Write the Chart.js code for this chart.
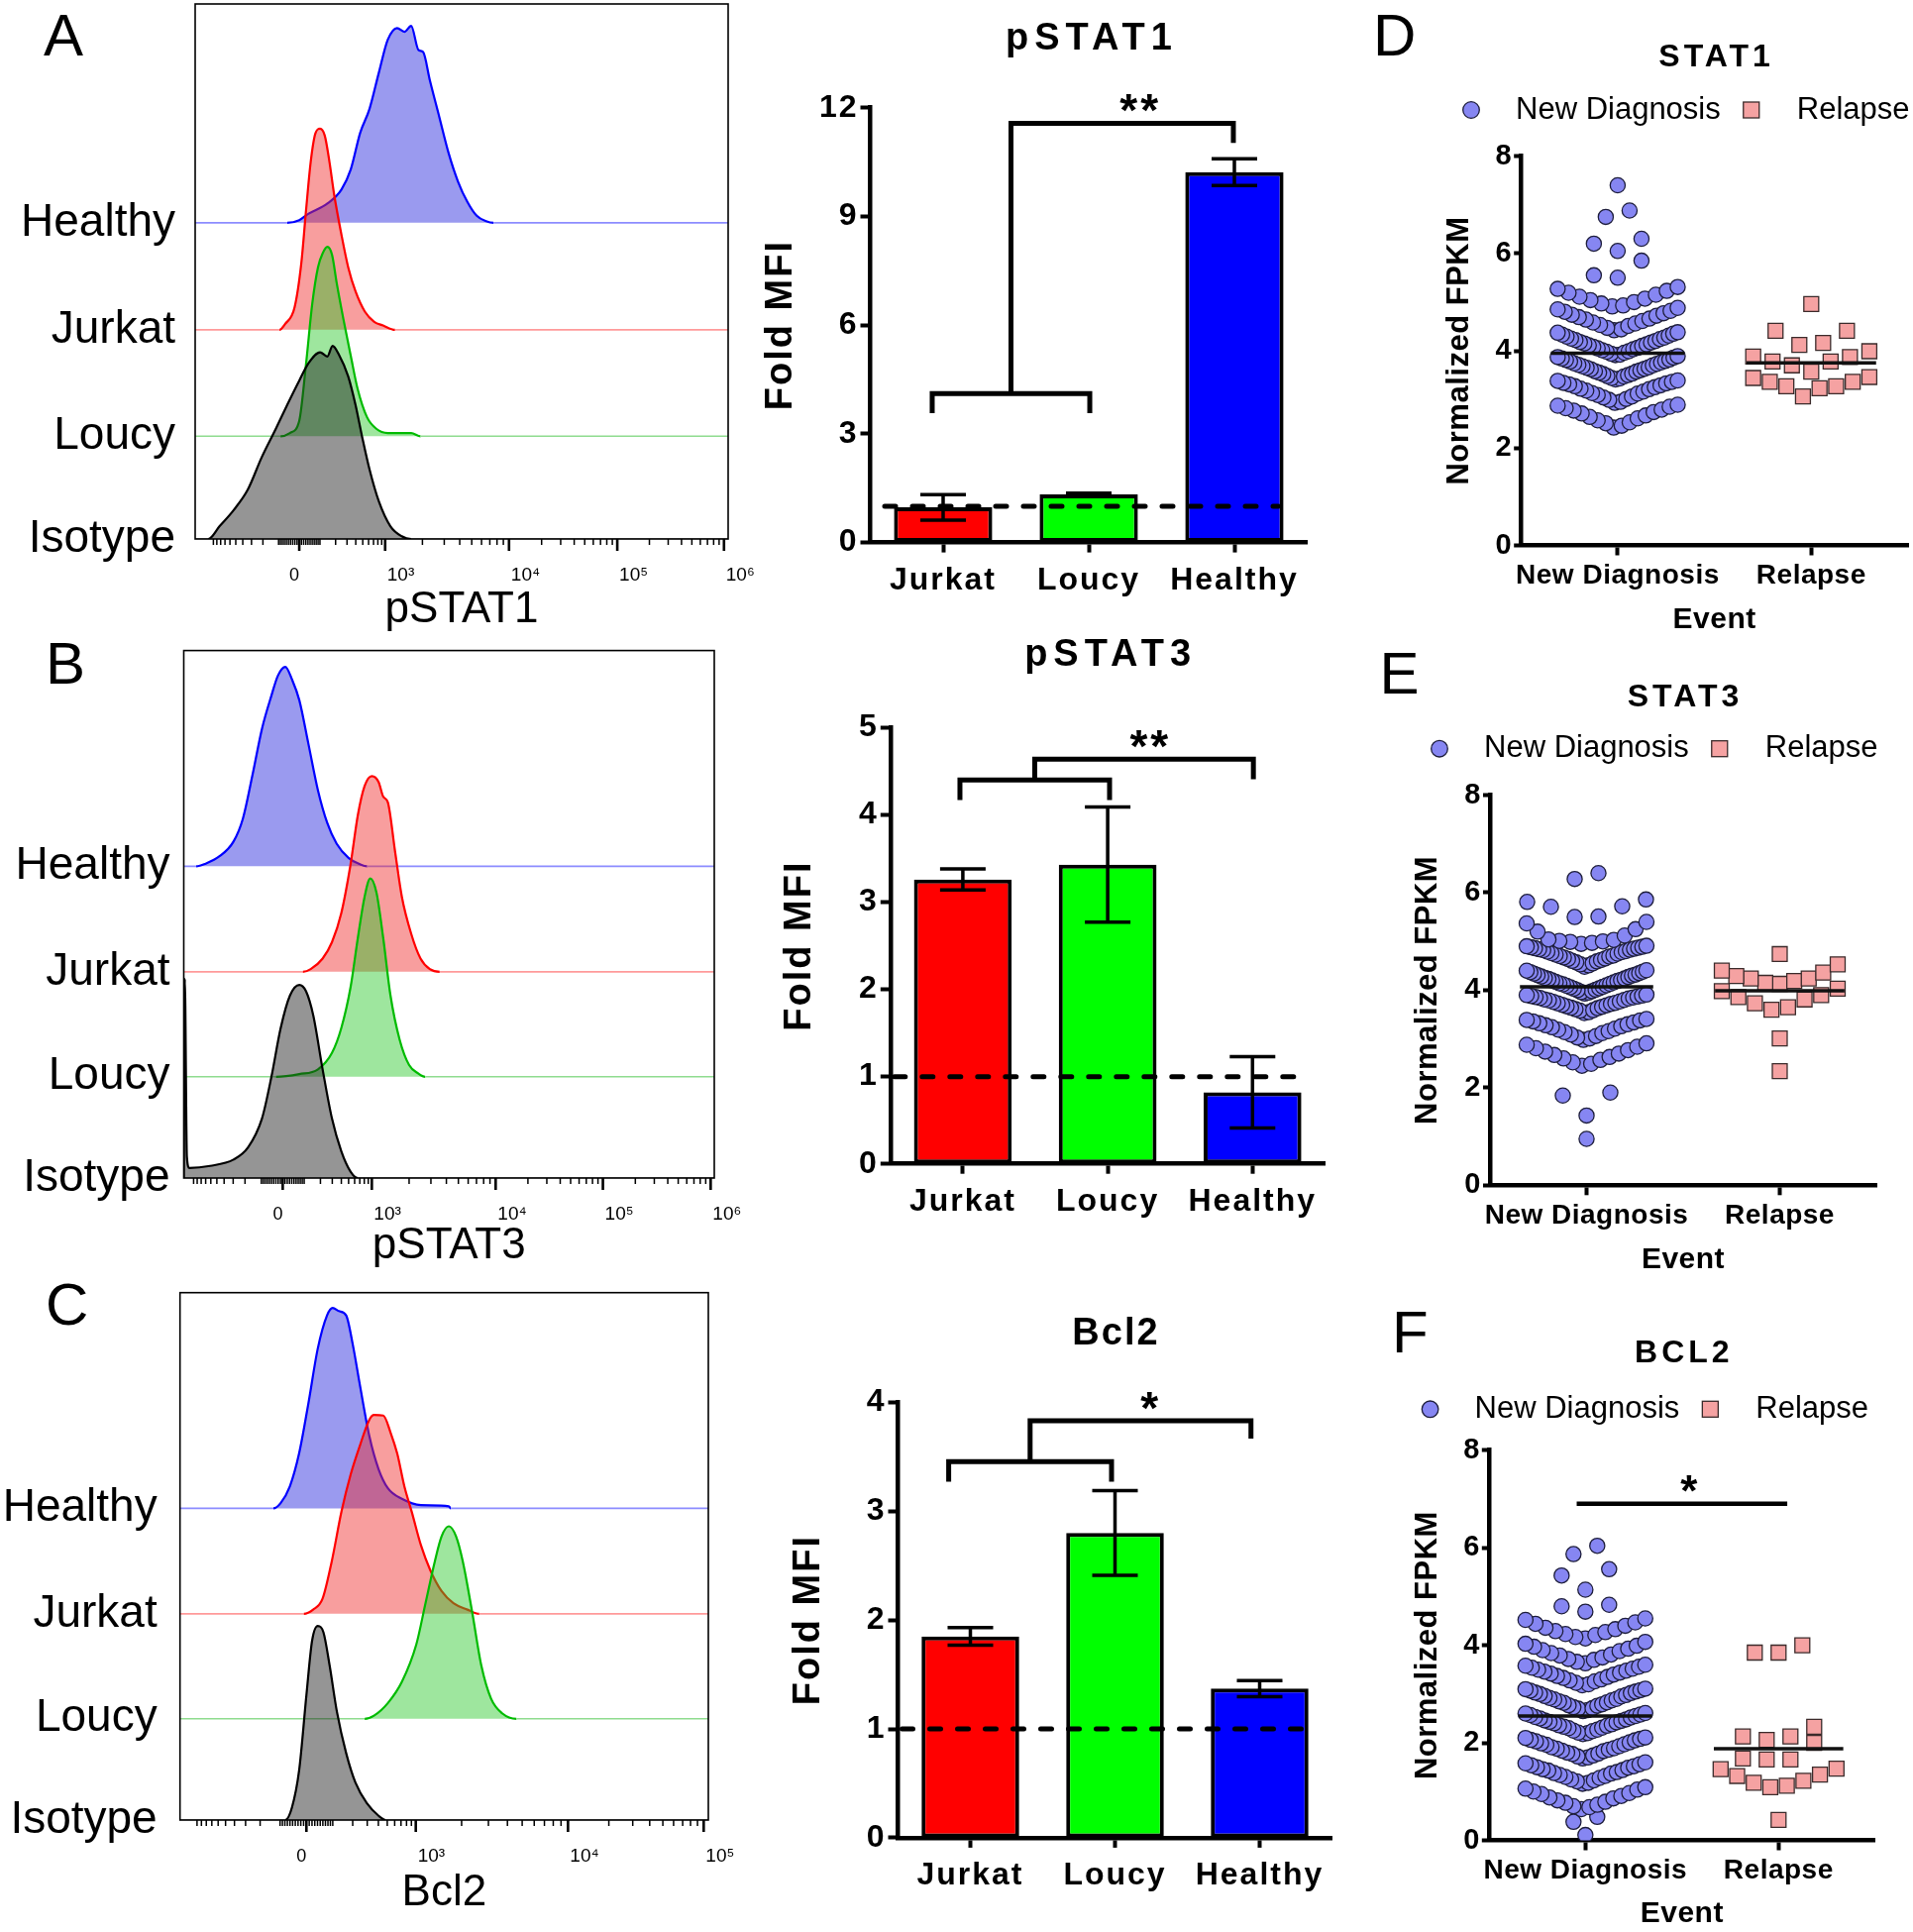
<!DOCTYPE html>
<html>
<head>
<meta charset="utf-8">
<title>pSTAT1 / pSTAT3 / Bcl2 and STAT1 / STAT3 / BCL2</title>
<script src="https://cdn.jsdelivr.net/npm/chart.js@4.4.1/dist/chart.umd.min.js"></script>
<style>
  html, body { margin: 0; padding: 0; background: #ffffff; }
  body { position: relative; width: 1931px; height: 1950px; overflow: hidden; }
  canvas { position: absolute; }
</style>
</head>
<body>
<script>
// ======================= DATA =======================
// --- Flow cytometry overlays: [display channel (0-1024), event count (% of plot height)] ---
const laneNames = ['Isotype', 'Loucy', 'Jurkat', 'Healthy'];

const pSTAT1_Healthy = [[0,0],[177,0],[200,0.5],[218,1.7],[254,3.6],[281,6.2],[299,10.0],[317,16.8],[335,21.3],[353,28.1],[370,34.2],[388,36.4],[402,35.7],[415,36.8],[429,32.3],[438,31.9],[451,26.6],[469,19.8],[487,13.0],[505,7.7],[523,3.9],[541,1.3],[559,0.3],[573,0],[1024,0]];
const pSTAT1_Jurkat = [[0,0],[162,0],[173,1.1],[191,4.2],[204,12.5],[213,22.3],[222,31.4],[231,36.7],[240,37.6],[249,36.3],[258,31.4],[267,25.3],[281,17.8],[294,11.7],[308,7.2],[326,3.4],[344,1.5],[361,0.8],[384,0],[1024,0]];
const pSTAT1_Loucy = [[0,0],[164,0],[182,0.6],[200,2.9],[213,13.5],[225,24.8],[236,31.6],[245,34.2],[254,35.4],[263,33.9],[272,28.6],[285,21.8],[299,15.0],[312,8.9],[330,3.6],[348,1.4],[370,0.6],[415,0.6],[433,0],[1024,0]];
const pSTAT1_Isotype = [[0,0],[25,0],[47,2.4],[74,5.4],[101,9.2],[128,15.3],[155,20.6],[177,25.1],[200,29.6],[218,32.9],[240,34.9],[254,34.1],[264,36.1],[276,34.5],[294,30.4],[308,25.1],[321,19.0],[335,13.0],[353,7.0],[375,2.4],[397,0.5],[415,0],[1024,0]];

const pSTAT3_Healthy = [[0,0],[24,0],[42,0.5],[69,1.9],[96,4.7],[114,9.0],[133,17.5],[151,26.1],[169,32.3],[182,36.2],[196,37.8],[209,35.4],[223,31.5],[241,23.0],[259,14.4],[277,8.2],[295,4.3],[318,1.6],[340,0.4],[354,0],[1024,0]];
const pSTAT3_Jurkat = [[0,0],[230,0],[245,0.5],[268,2.5],[286,5.6],[304,11.1],[322,20.4],[336,29.7],[349,35.2],[363,37.1],[376,36.0],[385,33.2],[394,32.1],[408,22.7],[421,14.2],[439,7.2],[457,2.5],[475,0.5],[494,0],[1024,0]];
const pSTAT3_Loucy = [[0,0],[178,0],[223,0.5],[259,1.4],[286,4.5],[304,9.2],[322,17.0],[336,26.3],[349,34.1],[360,37.6],[372,34.9],[385,26.3],[399,15.4],[417,6.9],[435,2.2],[453,0.6],[466,0],[1024,0]];
const pSTAT3_Isotype = [[0,0],[2,37.8],[6,4.0],[11,1.9],[51,2.3],[96,3.5],[124,5.8],[151,11.3],[169,19.1],[187,28.4],[205,34.6],[223,36.6],[236,35.4],[250,30.8],[268,20.6],[286,11.3],[304,5.1],[322,1.2],[336,0],[1024,0]];

const bcl2_Healthy = [[0,0],[181,0],[195,1.0],[213,4.2],[231,10.5],[249,20.0],[267,30.3],[285,36.6],[296,38.0],[308,37.4],[322,36.6],[335,31.0],[349,23.2],[367,13.7],[385,7.4],[403,3.8],[430,1.8],[467,0.6],[521,0.4],[525,0],[1024,0]];
const bcl2_Jurkat = [[0,0],[240,0],[258,0.8],[276,2.8],[294,9.9],[313,19.4],[331,26.5],[349,32.0],[367,36.8],[376,37.7],[394,37.6],[408,34.4],[421,30.4],[435,24.1],[449,19.4],[467,13.0],[485,8.3],[507,4.3],[530,2.0],[557,0.8],[580,0],[1024,0]];
const bcl2_Loucy = [[0,0],[358,0],[376,0.6],[403,3.0],[430,7.0],[458,14.1],[476,22.0],[494,29.9],[507,34.6],[521,36.5],[535,34.6],[548,29.9],[566,20.4],[584,10.1],[603,3.8],[625,1.0],[652,0],[1024,0]];
const bcl2_Isotype = [[0,0],[204,0],[217,2.4],[231,9.5],[245,23.7],[256,34.0],[267,36.8],[278,35.6],[290,29.3],[304,20.6],[322,12.7],[340,7.1],[362,3.2],[385,0.8],[399,0],[1024,0]];

// axis tick labels and their channel positions (0, 10^3, 10^4, ...)
const flowTickLabels6 = ['0', '10³', '10⁴', '10⁵', '10⁶'];
const flowTickLabels5 = ['0', '10³', '10⁴', '10⁵'];
const pSTAT1_tickChannels = [200, 365, 603, 811, 1016];
const pSTAT3_tickChannels = [191, 363, 602, 809, 1017];
const bcl2_tickChannels = [245, 457, 752, 1015];

// --- Bar charts: fold MFI, mean and error ---
const barCategories = ['Jurkat', 'Loucy', 'Healthy'];
const pSTAT1_fold = [0.97, 1.33, 10.22];
const pSTAT1_err = [0.35, 0.03, 0.37];
const pSTAT3_fold = [3.26, 3.43, 0.82];
const pSTAT3_err = [0.12, 0.66, 0.41];
const bcl2_fold = [1.85, 2.80, 1.37];
const bcl2_err = [0.08, 0.39, 0.075];
const pSTAT1_yTicks = [0, 3, 6, 9, 12];
const pSTAT3_yTicks = [0, 1, 2, 3, 4, 5];
const bcl2_yTicks = [0, 1, 2, 3, 4];
const foldReference = 1;
// significance brackets: [left leg, right leg, bar y, leg y, top y, top-right leg, top-right leg y] (category index / fold units)
const pSTAT1_bracket = [-0.075, 1.007, 4.11, 3.57, 11.57, 1.993, 11.03];
const pSTAT3_bracket = [-0.02, 1.013, 4.40, 4.17, 4.64, 2.006, 4.41];
const bcl2_bracket = [-0.15, 0.976, 3.456, 3.272, 3.831, 1.94, 3.667];

// --- RNA-seq normalized FPKM ---
const eventCategories = ['New Diagnosis', 'Relapse'];
const STAT1_newDx = [
  2.42,2.46,2.51,2.53,2.57,2.61,2.64,2.67,2.71,2.74,2.77,2.79,2.82,2.85,2.87,2.89,
  2.93,2.95,2.99,3.01,3.04,3.06,3.09,3.12,3.13,3.16,3.18,3.21,3.22,3.25,3.27,3.29,3.31,3.33,3.34,3.36,3.38,3.39,
  3.41,3.43,3.44,3.47,3.48,3.50,3.52,3.53,3.55,3.57,3.58,3.60,3.62,3.63,3.65,3.66,3.68,3.70,3.71,3.73,3.74,3.76,3.78,3.79,3.81,3.82,3.84,3.86,3.87,3.89,
  3.91,3.92,3.94,3.96,3.98,3.99,4.01,4.03,4.05,4.06,4.08,4.10,4.11,4.13,4.15,4.17,4.18,4.20,4.22,4.24,4.25,4.27,4.29,4.31,4.33,4.35,4.37,4.38,
  4.42,4.44,4.47,4.51,4.53,4.56,4.58,4.61,4.64,4.66,4.69,4.72,4.74,4.77,4.80,4.82,4.85,4.88,
  4.91,4.93,4.97,5.00,5.04,5.07,5.11,5.15,5.19,5.23,5.27,5.31,
  5.50,5.55,5.85,6.05,6.20,6.30,6.75,6.88,7.40];
const STAT1_relapse = [4.96,4.41,4.41,4.12,4.16,3.99,3.88,3.78,3.70,3.78,3.87,3.57,3.44,3.36,3.27,3.06,3.23,3.27,3.36,3.46];
const STAT1_means = [3.95, 3.75];

const STAT3_newDx = [
  0.95,1.43,1.84,1.90,
  2.45,2.49,2.52,2.57,2.60,2.63,2.67,2.70,2.74,2.77,2.81,2.84,2.88,2.91,
  2.98,3.01,3.03,3.06,3.09,3.12,3.14,3.16,3.19,3.21,3.24,3.26,3.28,3.30,3.32,3.34,3.36,3.38,3.39,3.41,
  3.53,3.55,3.58,3.59,3.61,3.63,3.64,3.66,3.67,3.69,3.70,3.72,3.73,3.74,3.76,3.77,3.79,3.80,3.81,3.83,3.84,3.85,3.86,3.87,3.88,3.89,3.90,3.91,
  3.93,3.95,3.96,3.98,4.00,4.01,4.03,4.04,4.06,4.07,4.09,4.10,4.12,4.13,4.14,4.16,4.17,4.19,4.20,4.21,4.23,4.24,4.25,4.27,4.28,4.30,4.31,4.32,4.34,4.35,4.37,4.38,4.40,4.41,
  4.48,4.51,4.53,4.55,4.57,4.59,4.60,4.62,4.64,4.65,4.67,4.69,4.70,4.71,4.73,4.75,4.76,4.78,4.79,4.80,4.82,4.83,4.84,4.85,4.86,4.87,4.88,4.89,4.90,4.91,
  4.95,4.97,4.99,5.00,5.01,5.03,5.04,5.12,5.20,5.25,5.37,5.40,
  5.50,5.51,5.71,5.72,5.81,5.86,
  6.28,6.40];
const STAT3_relapse = [4.74,4.53,4.40,4.36,4.29,4.24,4.19,4.15,4.13,4.24,4.03,3.98,3.86,3.73,3.60,3.65,3.81,3.90,3.01,2.34];
const STAT3_means = [4.07, 3.99];

const BCL2_newDx = [
  0.11,0.38,0.48,
  0.64,0.68,0.70,0.73,0.77,0.79,0.82,0.86,0.88,0.91,0.95,0.97,1.00,1.04,1.06,1.09,
  1.16,1.18,1.21,1.23,1.25,1.28,1.30,1.32,1.34,1.37,1.38,1.40,1.43,1.44,1.46,1.49,1.50,1.52,1.54,1.56,1.58,1.60,
  1.68,1.70,1.72,1.74,1.77,1.78,1.80,1.83,1.84,1.86,1.88,1.89,1.91,1.93,1.96,1.97,1.99,2.01,2.03,2.05,2.06,2.08,2.10,2.11,
  2.18,2.20,2.21,2.24,2.25,2.27,2.30,2.31,2.33,2.35,2.36,2.38,2.40,2.42,2.43,2.45,2.46,2.48,2.50,2.52,2.53,2.55,2.57,2.58,2.60,2.61,
  2.65,2.67,2.70,2.71,2.73,2.76,2.77,2.79,2.82,2.83,2.85,2.87,2.89,2.90,2.92,2.95,2.96,2.98,3.00,3.02,3.03,3.05,3.07,3.08,3.10,3.11,
  3.18,3.20,3.23,3.26,3.28,3.30,3.33,3.35,3.37,3.40,3.42,3.44,3.46,3.48,3.50,3.52,3.54,3.56,3.58,3.60,
  3.63,3.66,3.70,3.72,3.75,3.79,3.81,3.84,3.88,3.90,3.93,3.97,3.99,4.03,4.07,
  4.14,4.17,4.21,4.23,4.27,4.29,4.33,4.36,4.40,4.44,4.47,4.52,4.55,
  4.69,4.80,4.83,5.14,5.43,5.56,5.87,6.04];
const BCL2_relapse = [4.00,3.85,3.85,2.33,2.13,2.06,2.13,2.00,1.68,1.66,1.66,1.47,1.35,1.22,1.12,1.09,1.18,1.32,1.46,0.42];
const BCL2_means = [2.55, 1.88];
const BCL2_significance = [-0.045, 1.045, 6.9];

// ======================= STYLE / LAYOUT =======================
const FONT = "'Liberation Sans', Arial, Helvetica, sans-serif";
const fnt = (size, bold) => (bold ? 'bold ' : '') + size + 'px ' + FONT;
const laneOffsets = [0, 19.2, 39.1, 59.1];
const laneStyle = {
  Healthy: { line: '#0000ff', light: '#8c8cff', fill: 'rgba(40,40,220,0.47)' },
  Jurkat:  { line: '#ff0000', light: '#ff9a9a', fill: 'rgba(240,40,40,0.45)' },
  Loucy:   { line: '#00bb00', light: '#8fdc8f', fill: 'rgba(40,200,40,0.45)' },
  Isotype: { line: '#000000', light: '#888888', fill: 'rgba(30,30,30,0.47)' }
};
const barColors = ['#ff0000', '#00ff00', '#0000ff'];
const ND_FILL = 'rgb(134,134,242)';
const ND_EDGE = '#1e1e3c';
const REL_FILL = 'rgb(245,162,162)';
const REL_EDGE = '#3b2b2b';

function makeCanvas(r) {
  const c = document.createElement('canvas');
  c.width = r.w; c.height = r.h;
  c.style.left = r.x + 'px'; c.style.top = r.y + 'px';
  c.style.width = r.w + 'px'; c.style.height = r.h + 'px';
  document.body.appendChild(c);
  return c;
}

function fixAxis(size) {
  return s => {
    if (s.isHorizontal()) s.height = size; else s.width = size;
    s.paddingTop = 0; s.paddingBottom = 0; s.paddingLeft = 0; s.paddingRight = 0;
  };
}

function text(ctx, s, x, y, o) {
  ctx.save();
  ctx.font = o.font;
  ctx.fillStyle = o.color || '#000';
  ctx.textAlign = o.align || 'center';
  ctx.textBaseline = o.baseline || 'middle';
  const sp = o.spacing || 0;
  try { ctx.letterSpacing = sp + 'px'; } catch (e) {}
  const dx = ctx.textAlign === 'center' ? sp / 2 : 0;
  ctx.fillText(s, x + dx, y);
  ctx.restore();
}

function drawFlow(chart, f) {
  const ctx = chart.ctx, ca = chart.chartArea, xs = chart.scales.x;
  const ch = f.ticks;
  const map = v => {
    if (Math.abs(v) <= 1000) return ch[0] + (ch[1] - ch[0]) * Math.asinh(v / 150) / Math.asinh(1000 / 150);
    const d = Math.log10(v) - 3, k = Math.floor(d + 1e-9);
    return ch[k + 1] + (d - k) * (ch[k + 2] - ch[k + 1]);
  };
  const minors = [];
  for (let m = 1; m <= 10; m++) minors.push(-100 * m);
  for (let m = 1; m <= 9; m++) minors.push(-10 * m, 10 * m, 100 * m);
  for (let k = 1; k < ch.length - 1; k++) for (let m = 2; m <= 9; m++) minors.push(m * Math.pow(10, k + 2));
  ctx.save();
  ctx.strokeStyle = '#000';
  ctx.lineWidth = 1.6;
  ctx.strokeRect(ca.left, ca.top, ca.right - ca.left, ca.bottom - ca.top);
  ctx.lineWidth = 1.5;
  ctx.beginPath();
  minors.forEach(v => {
    const c = map(v);
    if (!(c > 2 && c < 1022)) return;
    const px = xs.getPixelForValue(c);
    ctx.moveTo(px, ca.bottom); ctx.lineTo(px, ca.bottom + 6);
  });
  ctx.stroke();
  ctx.lineWidth = 2.6;
  ctx.beginPath();
  ch.forEach(c => { const px = xs.getPixelForValue(c); ctx.moveTo(px, ca.bottom); ctx.lineTo(px, ca.bottom + 12); });
  ctx.stroke();
  ctx.restore();
  f.labels.forEach((s, i) => {
    const px = xs.getPixelForValue(ch[i]);
    if (i === 0) text(ctx, s, px - 5, ca.bottom + 37, { font: fnt(18, false) });
    else text(ctx, s, px + 2, ca.bottom + 37, { font: fnt(19, false), align: 'left' });
  });
}

function drawBars(chart, b) {
  const ctx = chart.ctx, ca = chart.chartArea, xs = chart.scales.x, ys = chart.scales.y;
  const X = v => xs.getPixelForValue(v), Y = v => ys.getPixelForValue(v);
  ctx.save();
  ctx.strokeStyle = '#000';
  ctx.lineWidth = 5; ctx.lineCap = 'round'; ctx.setLineDash([11, 17]);
  ctx.beginPath(); ctx.moveTo(ca.left + b.refInset[0], Y(b.ref)); ctx.lineTo(ca.right - b.refInset[1], Y(b.ref)); ctx.stroke();
  ctx.setLineDash([]); ctx.lineCap = 'butt';
  ctx.lineWidth = 3.5;
  b.mean.forEach((m, i) => {
    const x = X(i), yu = Y(m + b.err[i]), yl = Y(m - b.err[i]);
    ctx.beginPath();
    ctx.moveTo(x, yu); ctx.lineTo(x, yl);
    ctx.moveTo(x - 23, yu); ctx.lineTo(x + 23, yu);
    ctx.moveTo(x - 23, yl); ctx.lineTo(x + 23, yl);
    ctx.stroke();
  });
  const [l, r, yb, yleg, yt, tr, ytl] = b.bracket;
  ctx.lineWidth = 5; ctx.lineJoin = 'miter';
  ctx.beginPath();
  ctx.moveTo(X(l), Y(yleg)); ctx.lineTo(X(l), Y(yb)); ctx.lineTo(X(r), Y(yb)); ctx.lineTo(X(r), Y(yleg));
  ctx.stroke();
  const sx = (X(l) + X(r)) / 2;
  ctx.beginPath();
  ctx.moveTo(sx, Y(yb)); ctx.lineTo(sx, Y(yt)); ctx.lineTo(X(tr), Y(yt)); ctx.lineTo(X(tr), Y(ytl));
  ctx.stroke();
  ctx.restore();
  text(ctx, b.star, (sx + X(tr)) / 2 + b.starDx, Y(yt) + 3, { font: fnt(46, true), baseline: 'alphabetic', spacing: 3 });
}

function drawLegend(chart, L) {
  const ctx = chart.ctx;
  ctx.save();
  ctx.lineWidth = 1.3;
  ctx.fillStyle = ND_FILL; ctx.strokeStyle = ND_EDGE;
  ctx.beginPath(); ctx.arc(L.x, L.y, 8.3, 0, Math.PI * 2); ctx.fill(); ctx.stroke();
  ctx.font = fnt(31, false);
  try { ctx.letterSpacing = '0px'; } catch (e) {}
  const w1 = ctx.measureText(eventCategories[0]).width;
  ctx.restore();
  text(ctx, eventCategories[0], L.x + 45, L.y, { font: fnt(31, false), align: 'left' });
  const x2 = L.x + 45 + w1 + 31;
  ctx.save();
  ctx.lineWidth = 1.3; ctx.fillStyle = REL_FILL; ctx.strokeStyle = REL_EDGE;
  ctx.fillRect(x2 - 8, L.y - 8, 16, 16); ctx.strokeRect(x2 - 8, L.y - 8, 16, 16);
  ctx.restore();
  text(ctx, eventCategories[1], x2 + 46, L.y, { font: fnt(31, false), align: 'left' });
}

const deco = {
  id: 'deco',
  beforeDraw(chart) {
    const d = chart.canvas._deco || {};
    try { chart.ctx.letterSpacing = (d.spacing || 0) + 'px'; } catch (e) {}
  },
  afterDatasetsDraw(chart) {
    const d = chart.canvas._deco || {};
    if (d.bars) drawBars(chart, d.bars);
    if (d.sig) {
      const ctx = chart.ctx, xs = chart.scales.x, ys = chart.scales.y;
      const [a, b, v] = d.sig.pos;
      const y = ys.getPixelForValue(v);
      ctx.save(); ctx.strokeStyle = '#000'; ctx.lineWidth = 4.5;
      ctx.beginPath(); ctx.moveTo(xs.getPixelForValue(a), y); ctx.lineTo(xs.getPixelForValue(b), y); ctx.stroke();
      ctx.restore();
      text(ctx, d.sig.star, (xs.getPixelForValue(a) + xs.getPixelForValue(b)) / 2 + 7, y + 2, { font: fnt(44, true), baseline: 'alphabetic' });
    }
  },
  afterDraw(chart) {
    const d = chart.canvas._deco || {};
    const ctx = chart.ctx, ca = chart.chartArea;
    if (d.flow) drawFlow(chart, d.flow);
    if (d.title) text(ctx, d.title.text, (ca.left + ca.right) / 2, d.title.y, { font: fnt(d.title.size, true), spacing: d.title.spacing });
    if (d.legend) drawLegend(chart, d.legend);
    if (d.letter) text(ctx, d.letter.text, d.letter.x, d.letter.y, { font: fnt(60, false), align: 'left', baseline: 'alphabetic' });
  }
};
Chart.register(deco);

function baseOptions(p) {
  return {
    responsive: false, maintainAspectRatio: false, animation: false, devicePixelRatio: 1, events: [],
    layout: { autoPadding: false, padding: { left: 0, top: p.area.top, right: p.rect.w - p.area.right, bottom: 0 } },
    plugins: { legend: { display: false }, tooltip: { enabled: false } }
  };
}

// ---------- flow histogram overlay ----------
function flowChart(p) {
  const cv = makeCanvas(p.rect);
  cv._deco = { spacing: 0, flow: { ticks: p.tickChannels, labels: p.tickLabels }, letter: p.letter };
  const datasets = p.lanes.map((pts, i) => {
    const name = laneNames[i], st = laneStyle[name], off = laneOffsets[i];
    const flat = c => pts[c.p0DataIndex][1] === 0 && pts[c.p1DataIndex][1] === 0;
    return {
      label: name,
      data: pts.map(q => ({ x: q[0], y: off + q[1] })),
      borderColor: st.line, backgroundColor: st.fill, borderWidth: 2.2,
      pointRadius: 0, cubicInterpolationMode: 'monotone',
      fill: { value: off },
      segment: { borderColor: c => flat(c) ? st.light : st.line, borderWidth: c => flat(c) ? 1.6 : 2.2 }
    };
  });
  const opt = baseOptions(p);
  opt.scales = {
    x: {
      type: 'linear', min: 0, max: 1024,
      ticks: { display: false }, grid: { display: false }, border: { display: false },
      title: { display: true, text: p.xTitle, color: '#000', font: { family: FONT, size: 44, lineHeight: 1 }, padding: { top: 0, bottom: p.xTitlePad } },
      afterFit: fixAxis(p.rect.h - p.area.bottom)
    },
    y: {
      type: 'linear', min: 0, max: 100,
      afterBuildTicks: s => { s.ticks = laneOffsets.map(v => ({ value: v })); },
      ticks: { callback: v => laneNames[laneOffsets.indexOf(v)], color: '#000', font: { family: FONT, size: 46 }, padding: p.labelPad, autoSkip: false },
      grid: { display: false, drawTicks: false }, border: { display: false },
      afterFit: fixAxis(p.area.left)
    }
  };
  new Chart(cv, { type: 'line', data: { datasets }, options: opt });
}

// ---------- bar chart with error bars ----------
function barChart(p) {
  const cv = makeCanvas(p.rect);
  cv._deco = {
    spacing: 2,
    bars: { mean: p.mean, err: p.err, bracket: p.bracket, star: p.star, starDx: p.starDx, ref: foldReference, refInset: p.refInset },
    title: { text: p.title, y: p.titleY, size: 38, spacing: p.titleSpacing }
  };
  const opt = baseOptions(p);
  opt.scales = {
    x: {
      grid: { display: true, drawOnChartArea: false, offset: false, tickLength: 10, tickWidth: 4, tickColor: '#000' },
      border: { display: true, color: '#000', width: 4.5 },
      ticks: { color: '#000', font: { family: FONT, size: 32, weight: 'bold' }, padding: 9, autoSkip: false, maxRotation: 0 },
      afterFit: fixAxis(p.rect.h - p.area.bottom)
    },
    y: {
      min: 0, max: p.yTicks[p.yTicks.length - 1],
      afterBuildTicks: s => { s.ticks = p.yTicks.map(v => ({ value: v })); },
      grid: { display: true, drawOnChartArea: false, tickLength: 10, tickWidth: 4, tickColor: '#000' },
      border: { display: true, color: '#000', width: 4.5 },
      ticks: { color: '#000', font: { family: FONT, size: 32, weight: 'bold' }, padding: 2 },
      title: { display: true, text: 'Fold MFI', color: '#000', font: { family: FONT, size: 38, weight: 'bold', lineHeight: 1 }, padding: { top: p.yTitlePad, bottom: 0 } },
      afterFit: fixAxis(p.area.left)
    }
  };
  new Chart(cv, {
    type: 'bar',
    data: { labels: barCategories, datasets: [{ label: p.title, data: p.mean, backgroundColor: barColors, borderColor: '#000', borderWidth: 4, borderSkipped: false, barPercentage: 0.675, categoryPercentage: 1 }] },
    options: opt
  });
}

// ---------- beeswarm scatter ----------
function beeswarm(values, center, bin, width, maxStep) {
  const groups = new Map();
  values.forEach(v => {
    const k = Math.floor((v - bin[0]) / bin[1] + 1e-9);
    if (!groups.has(k)) groups.set(k, []);
    groups.get(k).push(v);
  });
  const pts = [];
  groups.forEach(arr => {
    arr.sort((a, b) => a - b);
    const n = arr.length;
    const step = n > 1 ? Math.min(maxStep, width / (n - 1)) : 0;
    arr.forEach((v, i) => {
      let slot;
      if (n % 2) slot = i === 0 ? 0 : (i % 2 ? -1 : 1) * Math.ceil(i / 2);
      else slot = (i % 2 ? 1 : -1) * (Math.floor(i / 2) + 0.5);
      pts.push({ x: center + slot * step, y: v });
    });
  });
  return pts;
}

function swarmChart(p) {
  const cv = makeCanvas(p.rect);
  cv._deco = { spacing: 0.5, title: { text: p.title, y: p.titleY, size: 32, spacing: 4 }, legend: p.legend, letter: p.letter, sig: p.sig };
  const nd = beeswarm(p.nd, 0, p.ndBin, 0.62, 0.123);
  const rel = beeswarm(p.rel, 1, p.relBin, 0.6, 0.123);
  const opt = baseOptions(p);
  opt.scales = {
    x: {
      type: 'linear', min: -0.5, max: 1.5,
      afterBuildTicks: s => { s.ticks = eventCategories.map((c, i) => ({ value: i })); },
      ticks: { callback: v => eventCategories[v], color: '#000', font: { family: FONT, size: 28, weight: 'bold' }, padding: 4, autoSkip: false, maxRotation: 0 },
      grid: { display: true, drawOnChartArea: false, tickLength: 10, tickWidth: 4, tickColor: '#000' },
      border: { display: true, color: '#000', width: 4.5 },
      title: { display: true, text: 'Event', color: '#000', font: { family: FONT, size: 30, weight: 'bold', lineHeight: 1 }, padding: { top: 0, bottom: p.xTitlePad } },
      afterFit: fixAxis(p.rect.h - p.area.bottom)
    },
    y: {
      min: 0, max: 8,
      ticks: { stepSize: 2, color: '#000', font: { family: FONT, size: 29, weight: 'bold' }, padding: 2 },
      grid: { display: true, drawOnChartArea: false, tickLength: 7, tickWidth: 4, tickColor: '#000' },
      border: { display: true, color: '#000', width: 4.5 },
      title: { display: true, text: 'Normalized FPKM', color: '#000', font: { family: FONT, size: 31, weight: 'bold', lineHeight: 1 }, padding: { top: p.yTitlePad, bottom: 0 } },
      afterFit: fixAxis(p.area.left)
    }
  };
  new Chart(cv, {
    type: 'scatter',
    data: {
      datasets: [
        { type: 'line', label: 'Mean ' + eventCategories[0], data: [{ x: -0.345, y: p.means[0] }, { x: 0.345, y: p.means[0] }], borderColor: '#111', borderWidth: 3.5, pointRadius: 0, fill: false },
        { type: 'line', label: 'Mean ' + eventCategories[1], data: [{ x: 0.665, y: p.means[1] }, { x: 1.335, y: p.means[1] }], borderColor: '#111', borderWidth: 3.5, pointRadius: 0, fill: false },
        { label: eventCategories[1], data: rel, pointStyle: 'rect', pointRadius: 10.6, backgroundColor: REL_FILL, borderColor: REL_EDGE, borderWidth: 1.3 },
        { label: eventCategories[0], data: nd, pointStyle: 'circle', pointRadius: 7.6, backgroundColor: ND_FILL, borderColor: ND_EDGE, borderWidth: 1.3 }
      ]
    },
    options: opt
  });
}

// ======================= BUILD =======================
flowChart({ rect: { x: 0, y: 0, w: 775, h: 645 }, area: { left: 197, top: 4, right: 735, bottom: 544 },
  lanes: [pSTAT1_Isotype, pSTAT1_Loucy, pSTAT1_Jurkat, pSTAT1_Healthy], tickChannels: pSTAT1_tickChannels, tickLabels: flowTickLabels6,
  xTitle: 'pSTAT1', xTitlePad: 7, labelPad: 20, letter: { text: 'A', x: 44, y: 56 } });
flowChart({ rect: { x: 0, y: 640, w: 775, h: 650 }, area: { left: 185.5, top: 16.6, right: 721, bottom: 549 },
  lanes: [pSTAT3_Isotype, pSTAT3_Loucy, pSTAT3_Jurkat, pSTAT3_Healthy], tickChannels: pSTAT3_tickChannels, tickLabels: flowTickLabels6,
  xTitle: 'pSTAT3', xTitlePad: 10.4, labelPad: 14, letter: { text: 'B', x: 46, y: 50 } });
flowChart({ rect: { x: 0, y: 1290, w: 775, h: 660 }, area: { left: 181.7, top: 14.7, right: 715, bottom: 547 },
  lanes: [bcl2_Isotype, bcl2_Loucy, bcl2_Jurkat, bcl2_Healthy], tickChannels: bcl2_tickChannels, tickLabels: flowTickLabels5,
  xTitle: 'Bcl2', xTitlePad: 17, labelPad: 23, letter: { text: 'C', x: 46, y: 47 } });

barChart({ rect: { x: 745, y: 0, w: 600, h: 640 }, area: { left: 133.5, top: 108.7, right: 574.5, bottom: 547.6 },
  title: 'pSTAT1', titleY: 39.5, titleSpacing: 6, mean: pSTAT1_fold, err: pSTAT1_err, yTicks: pSTAT1_yTicks, bracket: pSTAT1_bracket, star: '**', starDx: 17,
  refInset: [14.5, 29], yTitlePad: 25 });
barChart({ rect: { x: 745, y: 640, w: 610, h: 650 }, area: { left: 153.8, top: 94.5, right: 592.4, bottom: 534.7 },
  title: 'pSTAT3', titleY: 22, titleSpacing: 6, mean: pSTAT3_fold, err: pSTAT3_err, yTicks: pSTAT3_yTicks, bracket: pSTAT3_bracket, star: '**', starDx: 5,
  refInset: [4, 27], yTitlePad: 44 });
barChart({ rect: { x: 745, y: 1290, w: 620, h: 660 }, area: { left: 161.5, top: 125.4, right: 599.5, bottom: 564.9 },
  title: 'Bcl2', titleY: 57, titleSpacing: 2, mean: bcl2_fold, err: bcl2_err, yTicks: bcl2_yTicks, bracket: bcl2_bracket, star: '*', starDx: 9,
  refInset: [4, 26], yTitlePad: 52.6 });

swarmChart({ rect: { x: 1345, y: 0, w: 586, h: 650 }, area: { left: 190.2, top: 157.5, right: 581, bottom: 550.5 },
  title: 'STAT1', titleY: 58, nd: STAT1_newDx, rel: STAT1_relapse, means: STAT1_means, ndBin: [2.4, 0.5], relBin: [3.0, 0.5],
  legend: { x: 140, y: 111 }, letter: { text: 'D', x: 41, y: 56 }, xTitlePad: 9, yTitlePad: 112.5 });
swarmChart({ rect: { x: 1345, y: 650, w: 586, h: 650 }, area: { left: 159, top: 152.5, right: 549, bottom: 546.3 },
  title: 'STAT3', titleY: 54, nd: STAT3_newDx, rel: STAT3_relapse, means: STAT3_means, ndBin: [0.42, 0.5], relBin: [2.05, 0.5],
  legend: { x: 108, y: 105.7 }, letter: { text: 'E', x: 47.6, y: 50 }, xTitlePad: 13.2, yTitlePad: 81.3 });
swarmChart({ rect: { x: 1345, y: 1300, w: 586, h: 650 }, area: { left: 157.8, top: 163.7, right: 547.8, bottom: 557.5 },
  title: 'BCL2', titleY: 66.3, nd: BCL2_newDx, rel: BCL2_relapse, means: BCL2_means, ndBin: [0.62, 0.5], relBin: [0.05, 0.5],
  legend: { x: 98.6, y: 122.3 }, letter: { text: 'F', x: 60, y: 65 }, sig: { pos: BCL2_significance, star: '*' }, xTitlePad: 3, yTitlePad: 81.3 });
</script>
</body>
</html>
